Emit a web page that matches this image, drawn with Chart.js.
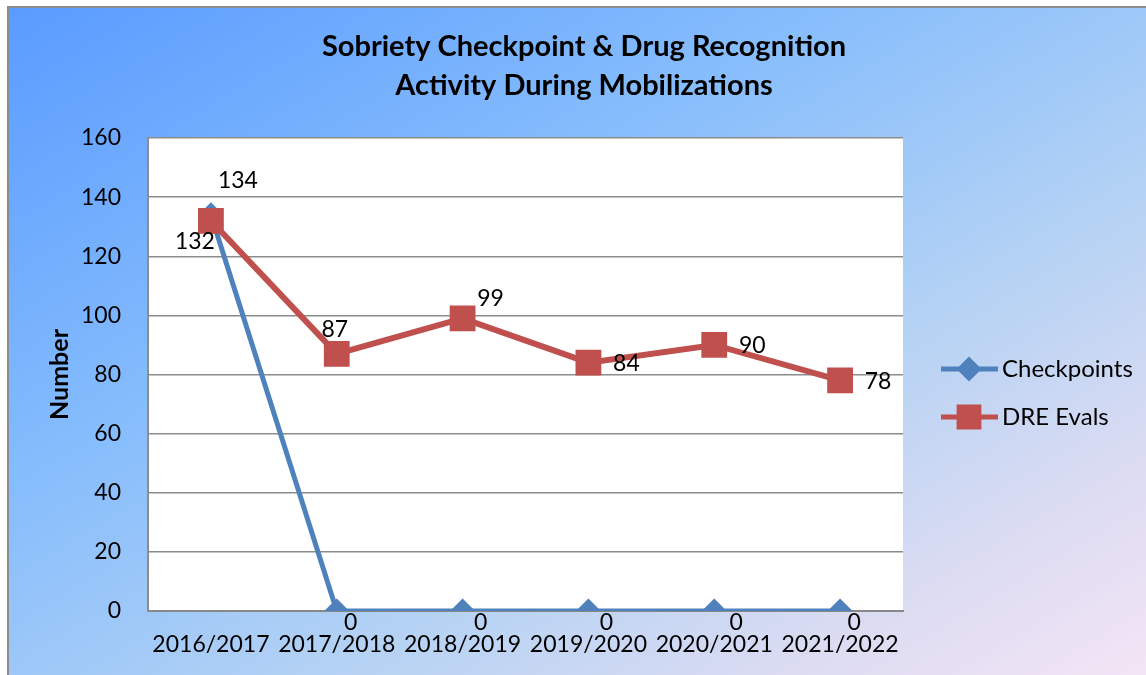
<!DOCTYPE html>
<html>
<head>
<meta charset="utf-8">
<script src="https://cdn.jsdelivr.net/npm/chart.js@4"></script>
<style>
  html, body { margin: 0; padding: 0; background: #fff; overflow: hidden; }
  .frame {
    position: absolute; left: 7px; top: 6px; width: 1160px; height: 690px;
    border: 2px solid #8c8c8c;
    background: linear-gradient(to bottom right, #5a9bff 0%, #86bdfc 35%, #b4d2f4 62%, #dcdcf2 82%, #f8e6f6 100%);
  }
  #wrap { position: absolute; left: 0; top: 0; width: 1146px; height: 675px; }
</style>
</head>
<body>
<div class="frame"></div>
<div id="wrap"><canvas id="chart"></canvas></div>
<script>
const seasons = ["2016/2017", "2017/2018", "2018/2019", "2019/2020", "2020/2021", "2021/2022"];
const checkpoints = [134, 0, 0, 0, 0, 0];
const dreEvals = [132, 87, 99, 84, 90, 78];
const yTicks = [0, 20, 40, 60, 80, 100, 120, 140, 160];
const titleLines = ["Sobriety Checkpoint & Drug Recognition", "Activity During Mobilizations"];

const FONT = "Lato, 'Open Sans', sans-serif";
const BLUE = "#4f81bd";
const RED = "#c0504d";

// where each value label sits relative to its point (dx, dy)
const labelOffsets = {
  Checkpoints: [[27, -34], [14, 12], [18, 12], [18, 12], [22, 12], [14, 12]],
  "DRE Evals": [[-16, 21], [-2, -24], [28, -20], [38, 1], [38, 1], [38, 1]],
};

const ctx = document.getElementById("chart").getContext("2d");

const plotBg = {
  id: "plotBg",
  beforeDraw(chart) {
    const { ctx, chartArea: a } = chart;
    ctx.save();
    ctx.fillStyle = "#ffffff";
    ctx.fillRect(a.left, a.top, a.right - a.left, a.bottom - a.top);
    ctx.restore();
  },
};

const extras = {
  id: "extras",
  afterDatasetsDraw(chart) {
    const c = chart.ctx;
    c.save();
    c.font = "23px " + FONT;
    c.fillStyle = "#000";
    c.textAlign = "center";
    c.textBaseline = "middle";
    chart.data.datasets.forEach((ds, i) => {
      const meta = chart.getDatasetMeta(i);
      const offs = labelOffsets[ds.label];
      meta.data.forEach((pt, j) => {
        c.fillText(String(ds.data[j]), pt.x + offs[j][0], pt.y + offs[j][1]);
      });
    });
    c.restore();
  },
  afterDraw(chart) {
    const c = chart.ctx;
    c.save();
    // title
    c.font = "bold 29px " + FONT;
    c.fillStyle = "#000";
    c.textAlign = "center";
    c.textBaseline = "middle";
    titleLines.forEach((t, i) => c.fillText(t, 584, 47 + i * 39));
    // legend
    const a = chart.chartArea;
    const rows = [chart.data.datasets[0], chart.data.datasets[1]];
    rows.forEach((ds, i) => {
      const y = 369 + i * 48;
      const x0 = a.right + 38;
      c.strokeStyle = ds.borderColor;
      c.lineWidth = 5;
      c.beginPath();
      c.moveTo(x0, y);
      c.lineTo(x0 + 57, y);
      c.stroke();
      Chart.helpers.drawPoint(c, {
        pointStyle: ds.pointStyle,
        radius: ds.pointRadius,
        borderWidth: 1,
      }, x0 + 28, y);
      c.fillStyle = ds.pointBackgroundColor;
      c.fill();
      c.fillStyle = "#000";
      c.font = "24px " + FONT;
      c.textAlign = "left";
      c.fillText(ds.label, x0 + 61, y);
    });
    c.restore();
  },
};

new Chart(ctx, {
  type: "line",
  data: {
    labels: seasons,
    datasets: [
      {
        label: "Checkpoints",
        data: checkpoints,
        borderColor: BLUE,
        backgroundColor: BLUE,
        pointBackgroundColor: BLUE,
        pointBorderColor: BLUE,
        borderWidth: 5,
        pointStyle: "rectRot",
        pointRadius: 9,
        order: 1,
      },
      {
        label: "DRE Evals",
        data: dreEvals,
        borderColor: RED,
        backgroundColor: RED,
        pointBackgroundColor: RED,
        pointBorderColor: RED,
        borderWidth: 6,
        pointStyle: "rect",
        pointRadius: 14,
        order: 0,
      },
    ],
  },
  options: {
    responsive: true,
    maintainAspectRatio: false,
    animation: false,
    layout: { padding: { left: 0, right: 243, top: 138, bottom: 0 } },
    plugins: {
      legend: { display: false },
      tooltip: { enabled: false },
      title: { display: false },
    },
    elements: { line: { tension: 0 } },
    scales: {
      x: {
        offset: true,
        grid: { display: false, drawTicks: false },
        border: { display: true, color: "#888", width: 2 },
        ticks: { color: "#000", font: { family: FONT, size: 23 }, padding: 20, maxRotation: 0, autoSkip: false },
        afterFit(scale) { scale.height = 64; },
      },
      y: {
        min: yTicks[0],
        max: yTicks[yTicks.length - 1],
        afterBuildTicks(scale) { scale.ticks = yTicks.map((v) => ({ value: v })); },
        grid: { color: "#8c8c8c", lineWidth: 1.5, drawTicks: false },
        border: { display: true, color: "#8c8c8c", width: 2 },
        ticks: { color: "#000", font: { family: FONT, size: 23 }, padding: 27 },
        title: {
          display: true,
          text: "Number",
          color: "#000",
          font: { family: FONT, size: 25, weight: "bold" },
          padding: { top: 45, bottom: 0 },
        },
        afterFit(scale) { scale.width = 148; },
      },
    },
  },
  plugins: [plotBg, extras],
});
</script>
</body>
</html>
